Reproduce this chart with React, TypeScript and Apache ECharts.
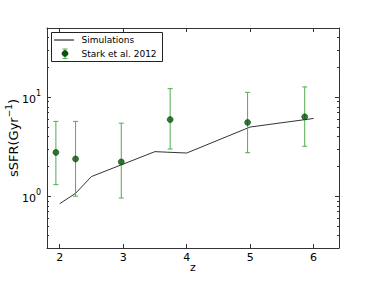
import React, { useEffect, useRef } from 'react';
import * as echarts from 'echarts';

// Simulations (redshift z, sSFR in Gyr^-1)
const simZ = [2.0, 2.25, 2.5, 3.5, 4.0, 5.0, 6.0];
const simSSFR = [0.84, 1.07, 1.58, 2.82, 2.73, 5.0, 6.1];

// Stark et al. 2012 observations with error bars
const starkZ = [1.94, 2.25, 2.97, 3.74, 4.96, 5.86];
const starkSSFR = [2.77, 2.38, 2.22, 5.95, 5.56, 6.34];
const starkLow = [1.31, 1.0, 0.96, 3.0, 2.75, 3.2];
const starkHigh = [5.7, 5.7, 5.47, 12.2, 11.2, 12.7];

// Tick positions / labels
const xTicks = [2, 3, 4, 5, 6];
const yMajorTicks = [1, 10];
const yMajorExponents = ['0', '1'];
const yMinorTicks = [0.3, 0.4, 0.5, 0.6, 0.7, 0.8, 0.9, 2, 3, 4, 5, 6, 7, 8, 9, 20, 30, 40, 50];

const FONT = 'DejaVu Sans';
const AXIS_COLOR = '#333';
const ERR_COLOR = '#4fae4f';

export default function App() {
  const ref = useRef<HTMLDivElement>(null);

  useEffect(() => {
    if (!ref.current) return;
    const chart = echarts.init(ref.current, undefined, { renderer: 'svg' });

    const lineStyle = { color: AXIS_COLOR, width: 1 };
    const xBase = (pos: 'top' | 'bottom', labels: boolean) => ({
      type: 'value',
      min: 1.8,
      max: 6.4,
      position: pos,
      axisLine: { show: true, onZero: false, lineStyle },
      axisTick: { show: true, inside: true, length: 4, customValues: xTicks, lineStyle },
      axisLabel: {
        show: labels,
        customValues: xTicks,
        margin: 4,
        fontSize: 11,
        color: '#000',
        fontFamily: FONT,
      },
      splitLine: { show: false },
      ...(labels
        ? {
            name: 'z',
            nameLocation: 'middle',
            nameGap: 14,
            nameMoveOverlap: false,
            nameTextStyle: { fontSize: 11, color: '#000', fontFamily: FONT },
          }
        : {}),
    });

    const yBase = (pos: 'left' | 'right', minor: boolean, labels: boolean) => ({
      type: 'log',
      logBase: 10,
      min: 0.3,
      max: 50,
      position: pos,
      axisLine: { show: !minor, onZero: false, lineStyle },
      axisTick: {
        show: true,
        inside: true,
        length: minor ? 2 : 4,
        customValues: minor ? yMinorTicks : yMajorTicks,
        lineStyle,
      },
      axisLabel: {
        show: labels,
        customValues: yMajorTicks,
        margin: 6,
        color: '#000',
        fontFamily: FONT,
        formatter: (v: number) => {
          const i = yMajorTicks.findIndex((t) => Math.abs(t - v) < 1e-6);
          return i < 0 ? '' : '{b|10}{s|' + yMajorExponents[i] + '}';
        },
        rich: {
          b: { fontSize: 11, fontFamily: FONT, color: '#000', lineHeight: 16, verticalAlign: 'bottom' },
          s: { fontSize: 8, fontFamily: FONT, color: '#000', lineHeight: 10, verticalAlign: 'top' },
        },
      },
      splitLine: { show: false },
      minorTick: { show: false },
      ...(labels
        ? {
            name: '{a|sSFR(Gyr}{s|−1}{a|)}',
            nameLocation: 'middle',
            nameRotate: 90,
            nameGap: 27,
            nameMoveOverlap: false,
            nameTextStyle: {
              fontSize: 13,
              color: '#000',
              fontFamily: FONT,
              rich: {
                a: { fontSize: 13, fontFamily: FONT, color: '#000', lineHeight: 16, verticalAlign: 'bottom' },
                s: { fontSize: 9, fontFamily: FONT, color: '#000', lineHeight: 10, verticalAlign: 'top' },
              },
            },
          }
        : {}),
    });

    const legendX = 51.5;
    const legendY = 32.5;

    chart.setOption({
      animation: false,
      textStyle: { fontFamily: FONT },
      grid: {
        left: 47,
        right: 37,
        top: 28,
        bottom: 34,
        containLabel: false,
        outerBoundsMode: 'none',
      },
      xAxis: [xBase('bottom', true), xBase('top', false)],
      yAxis: [
        yBase('left', false, true),
        yBase('left', true, false),
        yBase('right', false, false),
        yBase('right', true, false),
      ],
      series: [
        {
          name: 'Simulations',
          type: 'line',
          data: simZ.map((z, i) => [z, simSSFR[i]]),
          showSymbol: false,
          symbol: 'none',
          lineStyle: { color: '#000', width: 0.8 },
          silent: true,
          z: 2,
        },
        {
          name: 'Stark et al. 2012 errors',
          type: 'custom',
          data: starkZ.map((z, i) => [z, starkLow[i], starkHigh[i]]),
          encode: { x: 0, y: [1, 2] },
          renderItem: (params: any, api: any) => {
            const x = api.value(0);
            const lo = api.coord([x, api.value(1)]);
            const hi = api.coord([x, api.value(2)]);
            const cw = 2.5;
            const style = { stroke: ERR_COLOR, lineWidth: 1 };
            return {
              type: 'group',
              children: [
                { type: 'line', shape: { x1: lo[0], y1: lo[1], x2: hi[0], y2: hi[1] }, style },
                { type: 'line', shape: { x1: lo[0] - cw, y1: lo[1], x2: lo[0] + cw, y2: lo[1] }, style },
                { type: 'line', shape: { x1: hi[0] - cw, y1: hi[1], x2: hi[0] + cw, y2: hi[1] }, style },
              ],
            };
          },
          silent: true,
          z: 3,
        },
        {
          name: 'Stark et al. 2012',
          type: 'scatter',
          data: starkZ.map((z, i) => [z, starkSSFR[i]]),
          symbol: 'circle',
          symbolSize: 6,
          itemStyle: { color: '#005a00', borderColor: '#002200', borderWidth: 0.6 },
          silent: true,
          z: 4,
        },
      ],
      graphic: [
        {
          type: 'rect',
          shape: { x: legendX, y: legendY, width: 111, height: 29 },
          style: { fill: '#fff', stroke: '#222', lineWidth: 1 },
          z: 100,
        },
        {
          type: 'line',
          shape: { x1: 54, y1: 40, x2: 74, y2: 40 },
          style: { stroke: '#000', lineWidth: 1 },
          z: 101,
        },
        {
          type: 'text',
          x: 81.5,
          y: 40,
          style: { text: 'Simulations', fontSize: 9, fontFamily: FONT, fill: '#000', verticalAlign: 'middle', align: 'left' },
          z: 101,
        },
        {
          type: 'line',
          shape: { x1: 65, y1: 49, x2: 65, y2: 58.5 },
          style: { stroke: ERR_COLOR, lineWidth: 1 },
          z: 101,
        },
        {
          type: 'line',
          shape: { x1: 62.5, y1: 49, x2: 67.5, y2: 49 },
          style: { stroke: ERR_COLOR, lineWidth: 1 },
          z: 101,
        },
        {
          type: 'line',
          shape: { x1: 62.5, y1: 58.5, x2: 67.5, y2: 58.5 },
          style: { stroke: ERR_COLOR, lineWidth: 1 },
          z: 101,
        },
        {
          type: 'circle',
          shape: { cx: 65, cy: 53.5, r: 3 },
          style: { fill: '#005a00', stroke: '#002200', lineWidth: 0.6 },
          z: 102,
        },
        {
          type: 'text',
          x: 81.5,
          y: 53.5,
          style: { text: 'Stark et al. 2012', fontSize: 9, fontFamily: FONT, fill: '#000', verticalAlign: 'middle', align: 'left' },
          z: 101,
        },
      ],
    });

    return () => chart.dispose();
  }, []);

  return (
    <div
      ref={ref}
      style={{ position: 'fixed', left: 0, top: 0, width: 376, height: 282, background: '#fff' }}
    />
  );
}
